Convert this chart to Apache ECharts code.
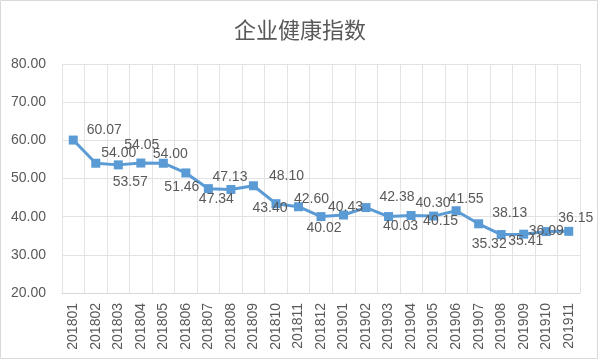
<!DOCTYPE html>
<html><head><meta charset="utf-8">
<script src="https://cdn.jsdelivr.net/npm/echarts@6/dist/echarts.min.js"></script>
<style>html,body{margin:0;padding:0;background:#fff}#c{width:600px;height:361px}</style>
</head><body><div id="c"></div>
<script>
const categories = ['201801','201802','201803','201804','201805','201806','201807','201808','201809','201810','201811','201812','201901','201902','201903','201904','201905','201906','201907','201908','201909','201910','201911'];
const values = [60.07,54.00,53.57,54.05,54.00,51.46,47.34,47.13,48.10,43.40,42.60,40.02,40.43,42.38,40.03,40.30,40.15,41.55,38.13,35.32,35.41,36.09,36.15];
// label centre offset from its point, in pixels
const labelOffsets = [[31,-10],[23,-10],[12,17],[1,-18],[7,-9],[-4,14],[8,10],[-1,-12],[33,-10],[-6,4],[13,-8],[3,12],[2,-8],[31,-10],[12,10],[22,-12],[7,5],[10,-12],[31,-11],[-12,10],[2,7],[0,0],[7,-13]];
const yTicks = {min:20, max:80, interval:10};

const data = values.map((v,i)=>({
  value:v,
  label:{position:'inside', offset:labelOffsets[i]}
}));

const chart = echarts.init(document.getElementById('c'), null, {renderer:'canvas'});
chart.setOption({
  animation:false,
  title:{text:'企业健康指数', left:'center', top:14,
    textStyle:{fontFamily:'Noto Sans CJK SC', fontSize:22, fontWeight:'normal', color:'#595959'}},
  grid:{left:62, right:20, top:64, bottom:68},
  xAxis:{type:'category', data:categories, boundaryGap:true,
    axisLine:{lineStyle:{color:'#d9d9d9'}},
    axisTick:{show:false},
    splitLine:{show:true, lineStyle:{color:'#e3e3e3'}},
    axisLabel:{rotate:90, interval:0, color:'#595959', fontFamily:'Liberation Sans', fontSize:14, margin:10}},
  yAxis:{type:'value', min:yTicks.min, max:yTicks.max, interval:yTicks.interval,
    axisLine:{show:false}, axisTick:{show:false},
    splitLine:{lineStyle:{color:'#e3e3e3'}},
    axisLabel:{formatter:v=>v.toFixed(2), color:'#595959', fontFamily:'Liberation Sans', fontSize:14, margin:16}},
  series:[{type:'line', data:data, symbol:'rect', symbolSize:9,
    lineStyle:{color:'#5b9bd5', width:3},
    itemStyle:{color:'#5b9bd5'},
    label:{show:true, formatter:p=>p.value.toFixed(2), color:'#595959', fontFamily:'Liberation Sans', fontSize:14}}],
  graphic:[{type:'rect', shape:{x:0.5,y:0.5,width:597,height:358}, style:{fill:'none', stroke:'#d9d9d9', lineWidth:1}, silent:true}]
});
</script></body></html>
